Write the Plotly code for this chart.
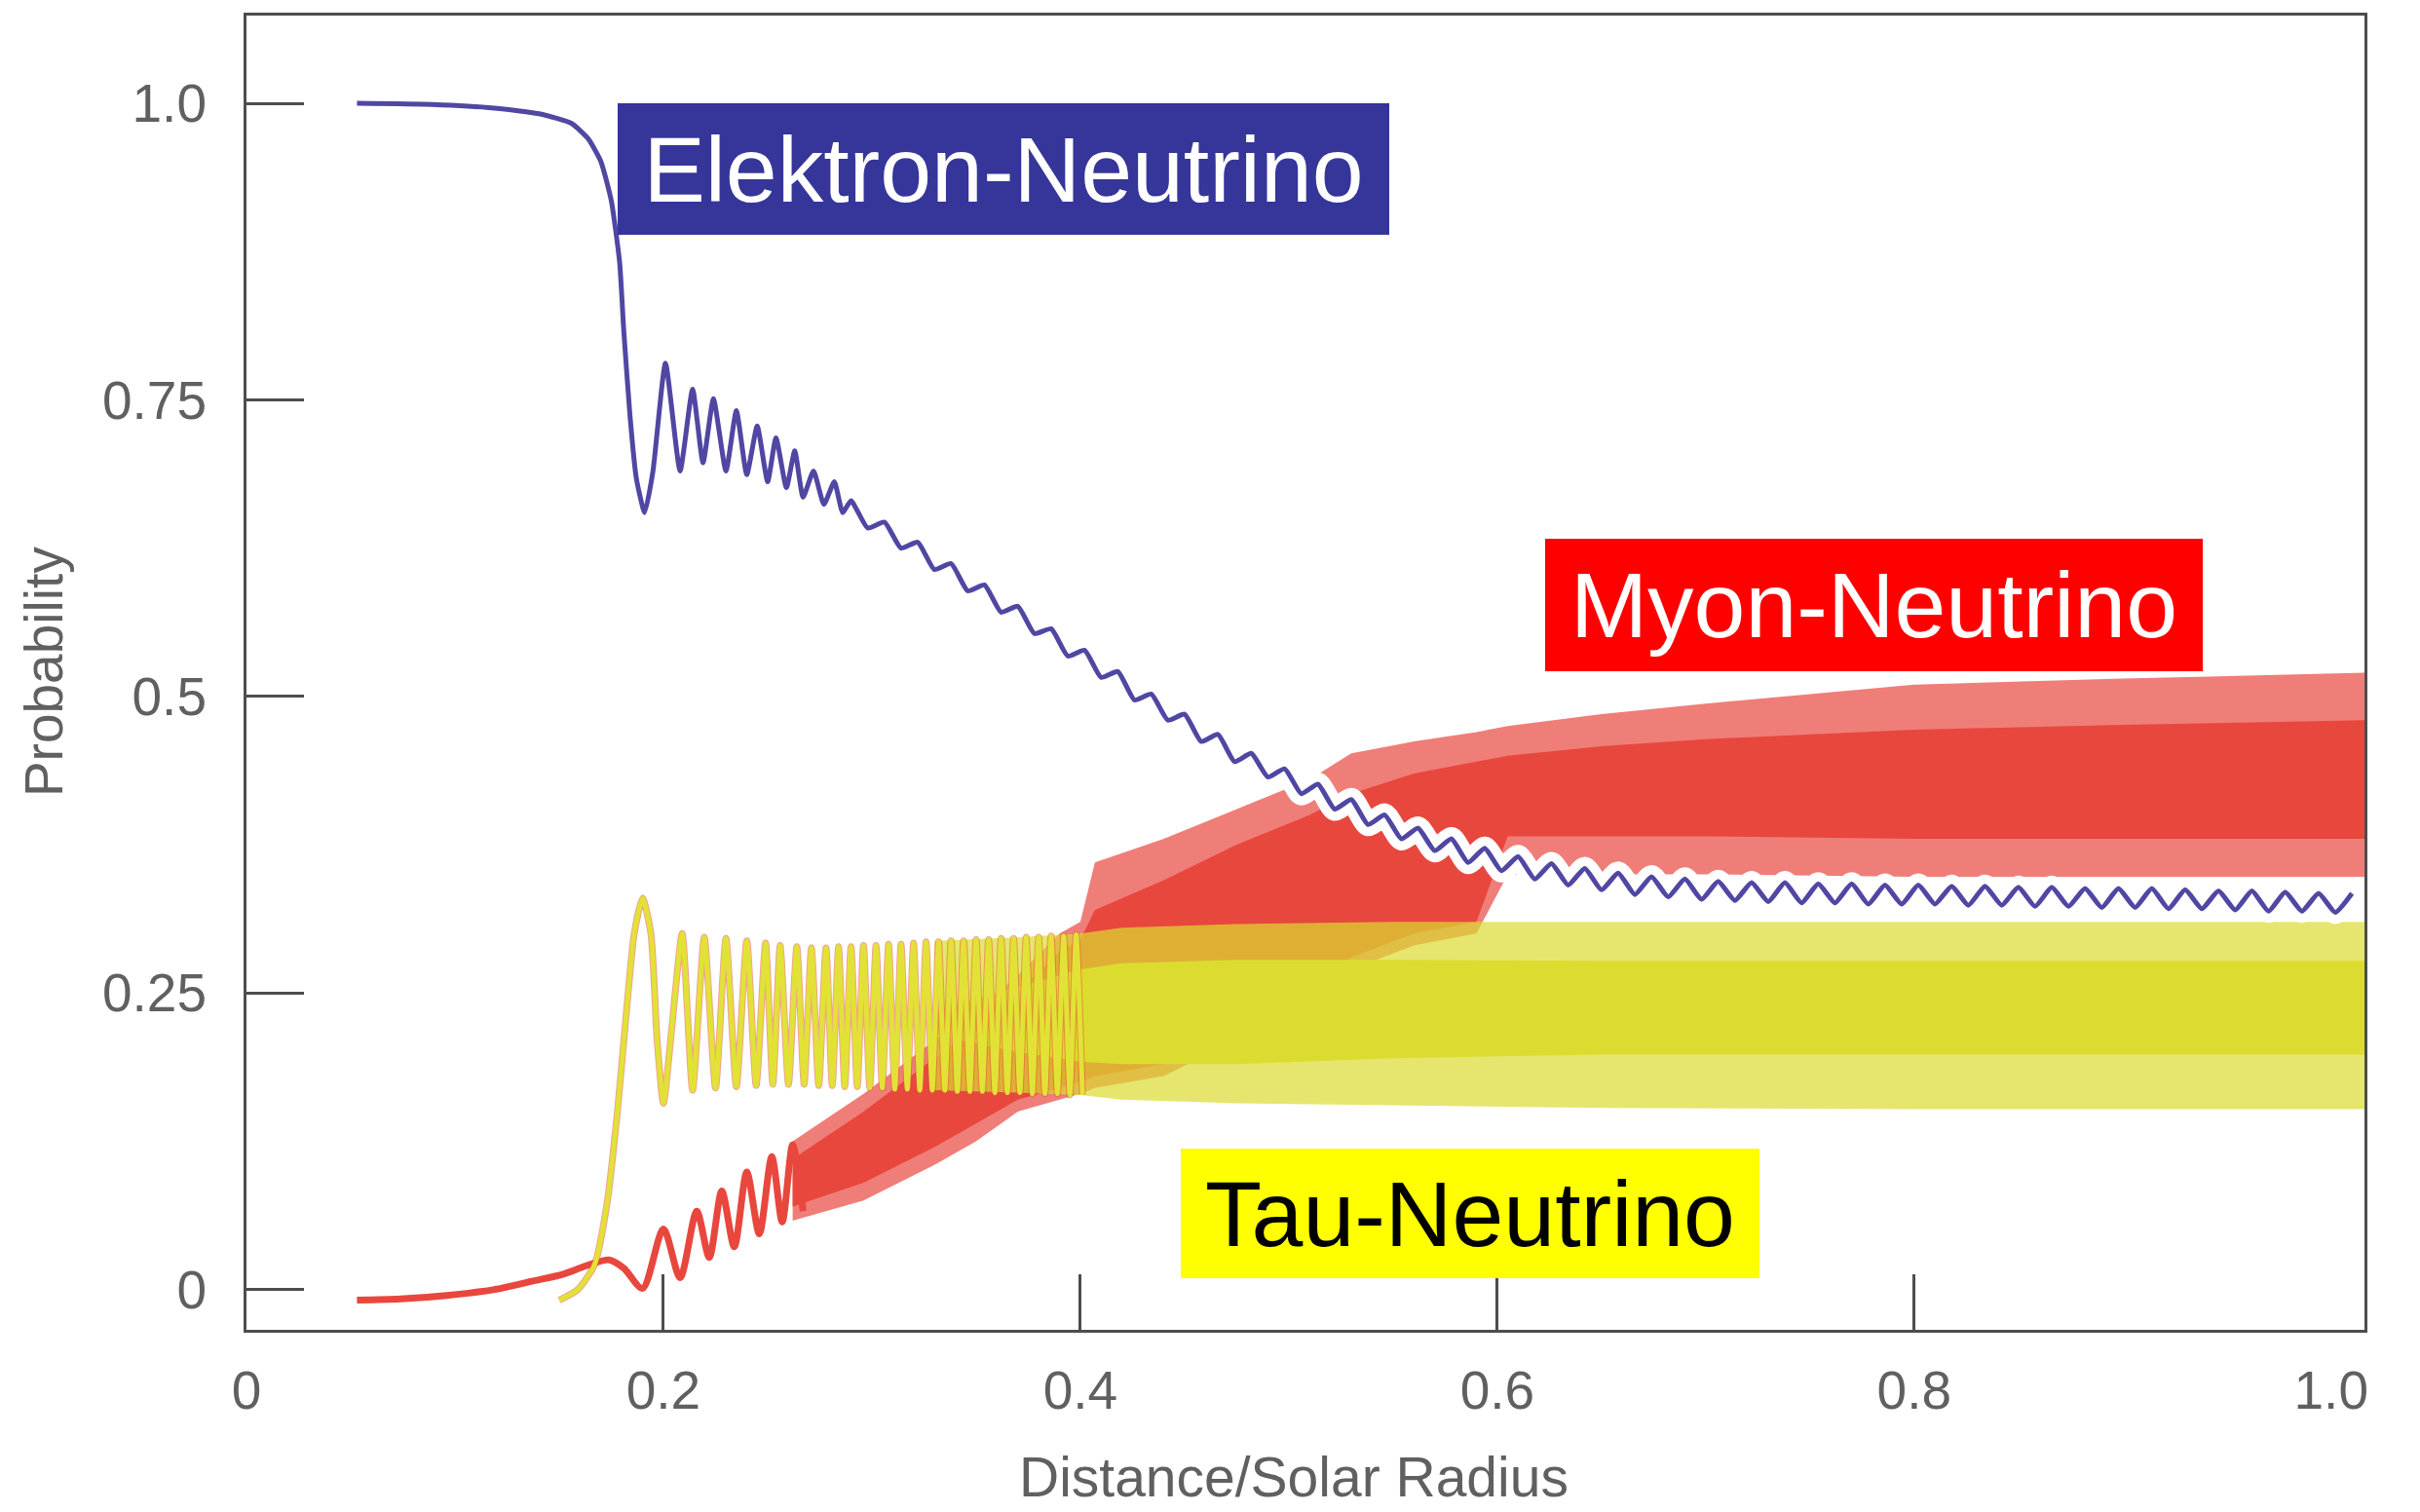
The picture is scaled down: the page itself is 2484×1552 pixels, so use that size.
import plotly.graph_objects as go

# ---------------- data (probability vs. distance / solar radius) ----------------
# Electron neutrino: survival probability (alternating crests/troughs of the ripple)
electron_x = [0.053, 0.089, 0.119, 0.141, 0.156, 0.164, 0.170, 0.175, 0.179, 0.181,
              0.184, 0.187, 0.191, 0.195, 0.201, 0.208, 0.214, 0.219, 0.224, 0.230,
              0.235, 0.240, 0.245, 0.250, 0.254, 0.259, 0.263, 0.267, 0.272, 0.277,
              0.282, 0.286,
              0.290, 0.298, 0.306, 0.314, 0.322, 0.330, 0.338, 0.346, 0.354, 0.362,
              0.370, 0.378, 0.386, 0.394, 0.402, 0.410, 0.418, 0.426, 0.434, 0.442,
              0.450, 0.458, 0.466, 0.474, 0.482, 0.490, 0.498, 0.506, 0.514, 0.522,
              0.530, 0.538, 0.546, 0.554, 0.562, 0.570, 0.578, 0.586, 0.594, 0.602,
              0.610, 0.618, 0.626, 0.634, 0.642, 0.650, 0.658, 0.666, 0.674, 0.682,
              0.690, 0.698, 0.706, 0.714, 0.722, 0.730, 0.738, 0.746, 0.754, 0.762,
              0.770, 0.778, 0.786, 0.794, 0.802, 0.810, 0.818, 0.826, 0.834, 0.842,
              0.850, 0.858, 0.866, 0.874, 0.882, 0.890, 0.898, 0.906, 0.914, 0.922,
              0.930, 0.938, 0.946, 0.954, 0.962, 0.970, 0.978, 0.986, 0.994, 1.002,
              1.010]
electron_p = [1.000, 0.999, 0.996, 0.991, 0.983, 0.970, 0.951, 0.918, 0.866, 0.808,
              0.736, 0.684, 0.655, 0.690, 0.781, 0.690, 0.759, 0.697, 0.751, 0.690,
              0.741, 0.687, 0.728, 0.681, 0.718, 0.676, 0.707, 0.668, 0.690, 0.662,
              0.681, 0.655,
              0.665, 0.642, 0.647, 0.625, 0.630, 0.607, 0.612, 0.589, 0.594, 0.571,
              0.576, 0.553, 0.557, 0.534, 0.539, 0.516, 0.521, 0.497, 0.502, 0.480,
              0.485, 0.462, 0.468, 0.445, 0.452, 0.432, 0.439, 0.418, 0.426, 0.405,
              0.413, 0.392, 0.400, 0.380, 0.389, 0.370, 0.380, 0.360, 0.372, 0.353,
              0.365, 0.346, 0.359, 0.341, 0.355, 0.337, 0.351, 0.333, 0.348, 0.331,
              0.346, 0.329, 0.344, 0.328, 0.343, 0.327, 0.343, 0.326, 0.342, 0.326,
              0.342, 0.325, 0.341, 0.325, 0.341, 0.325, 0.340, 0.324, 0.340, 0.324,
              0.339, 0.323, 0.339, 0.323, 0.338, 0.322, 0.338, 0.322, 0.338, 0.321,
              0.337, 0.321, 0.336, 0.320, 0.336, 0.319, 0.335, 0.319, 0.334, 0.318,
              0.334]

# Muon neutrino: resolved oscillations near the resonance
muon_x = [0.053, 0.074, 0.096, 0.119, 0.137, 0.152, 0.163, 0.174, 0.181, 0.190,
          0.200, 0.208, 0.216, 0.222, 0.228, 0.234, 0.240, 0.246, 0.252, 0.257,
          0.262, 0.267]
muon_p = [-0.009, -0.008, -0.005, 0.000, 0.007, 0.013, 0.020, 0.025, 0.018, 0.001,
          0.051, 0.010, 0.066, 0.027, 0.083, 0.036, 0.099, 0.047, 0.112, 0.057,
          0.122, 0.066]
# Muon neutrino: envelope of the fast oscillation further out
muon_band_x = [0.262, 0.296, 0.330, 0.350, 0.370, 0.390, 0.400, 0.407, 0.440, 0.475,
               0.510, 0.530, 0.560, 0.590, 0.605, 0.650, 0.700, 0.800, 0.900, 1.016]
muon_peak_hi = [0.125, 0.165, 0.210, 0.235, 0.265, 0.300, 0.310, 0.360, 0.380, 0.405,
                0.430, 0.452, 0.462, 0.470, 0.475, 0.485, 0.494, 0.510, 0.515, 0.520]
muon_core_hi = [0.110, 0.150, 0.195, 0.220, 0.250, 0.285, 0.295, 0.320, 0.345, 0.375,
                0.400, 0.418, 0.435, 0.445, 0.450, 0.458, 0.464, 0.472, 0.476, 0.480]
muon_core_lo = [0.070, 0.090, 0.120, 0.140, 0.160, 0.170, 0.175, 0.180, 0.190, 0.220,
                0.260, 0.280, 0.300, 0.310, 0.382, 0.382, 0.382, 0.380, 0.380, 0.380]
muon_peak_lo = [0.058, 0.075, 0.105, 0.125, 0.150, 0.160, 0.165, 0.170, 0.180, 0.210,
                0.250, 0.270, 0.290, 0.300, 0.350, 0.350, 0.350, 0.348, 0.348, 0.348]

# Tau neutrino: resolved oscillations near the resonance
tau_x = [0.150, 0.159, 0.167, 0.173, 0.178, 0.182, 0.186, 0.190, 0.194, 0.197,
         0.200, 0.204, 0.209, 0.214, 0.2196, 0.225, 0.230, 0.235, 0.240, 0.2445,
         0.249, 0.2525, 0.256, 0.260, 0.264, 0.2675, 0.271, 0.2745, 0.278, 0.281,
         0.284, 0.287, 0.290, 0.293, 0.296, 0.299, 0.302, 0.305, 0.308, 0.311,
         0.314, 0.317, 0.320, 0.323, 0.326, 0.329, 0.332, 0.335, 0.338, 0.341,
         0.344, 0.347, 0.350, 0.353, 0.356, 0.359, 0.362, 0.365, 0.368, 0.371,
         0.374, 0.377, 0.380, 0.383, 0.386, 0.389, 0.392, 0.395, 0.398, 0.401]
tau_p = [-0.009, 0.000, 0.021, 0.073, 0.151, 0.229, 0.300, 0.330, 0.300, 0.210,
         0.157, 0.220, 0.300, 0.168, 0.297, 0.170, 0.296, 0.171, 0.294, 0.172,
         0.292, 0.173, 0.290, 0.173, 0.289, 0.173, 0.288, 0.172, 0.288, 0.172,
         0.289, 0.171, 0.289, 0.171, 0.290, 0.170, 0.290, 0.170, 0.291, 0.169,
         0.291, 0.169, 0.292, 0.168, 0.293, 0.168, 0.293, 0.168, 0.294, 0.167,
         0.294, 0.167, 0.295, 0.167, 0.295, 0.166, 0.296, 0.166, 0.296, 0.166,
         0.297, 0.165, 0.297, 0.165, 0.298, 0.165, 0.298, 0.164, 0.299, 0.164]
# Tau neutrino: envelope of the fast oscillation further out
tau_band_x = [0.330, 0.370, 0.400, 0.420, 0.475, 0.550, 0.650, 0.800, 1.016]
tau_peak_hi = [0.294, 0.297, 0.300, 0.305, 0.308, 0.310, 0.310, 0.310, 0.310]
tau_core_hi = [0.235, 0.255, 0.270, 0.275, 0.278, 0.278, 0.277, 0.277, 0.277]
tau_core_lo = [0.215, 0.200, 0.192, 0.190, 0.190, 0.195, 0.198, 0.198, 0.198]
tau_peak_lo = [0.168, 0.166, 0.164, 0.160, 0.157, 0.155, 0.153, 0.152, 0.152]

x_tick_vals = [0, 0.2, 0.4, 0.6, 0.8, 1.0]
x_tick_text = ["0", "0.2", "0.4", "0.6", "0.8", "1.0"]
y_tick_vals = [0, 0.25, 0.5, 0.75, 1.0]
y_tick_text = ["0", "0.25", "0.5", "0.75", "1.0"]

# ---------------- styling ----------------
FONT = "Liberation Sans, Arial, Helvetica, sans-serif"
AXIS_GREY = "#4d4d4d"
LABEL_GREY = "#606060"
RED = "#e8473e"
YELLOW = "#dcdc30"
BLUE = "#5047a3"


def band(xs, hi, lo, color, name):
    return go.Scatter(x=list(xs) + list(xs)[::-1], y=list(hi) + list(lo)[::-1],
                      fill="toself", fillcolor=color, mode="lines",
                      line=dict(width=0, color=color), hoverinfo="skip",
                      showlegend=False, name=name)


fig = go.Figure()

# muon neutrino
fig.add_trace(band(muon_band_x, muon_peak_hi, muon_peak_lo, "rgba(232,71,62,0.7)", "muon-outer"))
fig.add_trace(band(muon_band_x, muon_core_hi, muon_core_lo, RED, "muon-core"))
fig.add_trace(go.Scatter(x=muon_x, y=muon_p, mode="lines",
                         line=dict(color=RED, width=7, shape="spline", smoothing=0.8),
                         showlegend=False, name="muon"))

# tau neutrino
fig.add_trace(band(tau_band_x, tau_peak_hi, tau_peak_lo, "rgba(220,220,48,0.7)", "tau-outer"))
fig.add_trace(band(tau_band_x, tau_core_hi, tau_core_lo, YELLOW, "tau-core"))
fig.add_trace(go.Scatter(x=tau_x, y=tau_p, mode="lines",
                         line=dict(color="rgba(225,85,55,0.55)", width=7,
                                   shape="spline", smoothing=0.6),
                         showlegend=False, hoverinfo="skip", name="tau-edge"))
fig.add_trace(go.Scatter(x=tau_x, y=tau_p, mode="lines",
                         line=dict(color="#e2e236", width=5, shape="spline", smoothing=0.6),
                         showlegend=False, name="tau"))

# electron neutrino, with a white clearance around it
fig.add_trace(go.Scatter(x=electron_x, y=electron_p, mode="lines",
                         line=dict(color="white", width=24, shape="spline", smoothing=0.5),
                         hoverinfo="skip", showlegend=False, name="electron-clear"))
fig.add_trace(go.Scatter(x=electron_x, y=electron_p, mode="lines",
                         line=dict(color=BLUE, width=5, shape="spline", smoothing=0.5),
                         showlegend=False, name="electron"))

axis_common = dict(showline=True, mirror=True, linecolor=AXIS_GREY, linewidth=3,
                   showgrid=False, zeroline=False,
                   tickfont=dict(family=FONT, size=55, color=LABEL_GREY))

fig.update_xaxes(range=[0, 1.016], tickmode="array", tickvals=x_tick_vals,
                 ticktext=x_tick_text, ticks="", ticklabelstandoff=12,
                 minor=dict(tickmode="array", tickvals=x_tick_vals[1:-1], ticks="inside",
                            ticklen=57, tickwidth=3, tickcolor=AXIS_GREY, showgrid=False),
                 **axis_common)
fig.update_yaxes(range=[-0.034, 1.074], tickmode="array", tickvals=y_tick_vals,
                 ticktext=y_tick_text, ticks="inside", ticklen=59, tickwidth=3,
                 tickcolor=AXIS_GREY, ticklabelstandoff=27, **axis_common)

annotations = [
    dict(text="Probability", x=-0.0957, y=0.501, xref="paper", yref="paper",
         textangle=-90, showarrow=False, xanchor="center", yanchor="middle",
         font=dict(family=FONT, size=55, color=LABEL_GREY)),
    dict(text="Distance/Solar Radius", x=0.4945, y=-0.1371, xref="paper", yref="paper",
         showarrow=False, xanchor="center", yanchor="bottom",
         font=dict(family=FONT, size=57, color=LABEL_GREY)),
    dict(text="Elektron-Neutrino", x=0.3574, y=0.8833, xref="paper", yref="paper",
         showarrow=False, xanchor="center", yanchor="middle", width=792, height=135,
         bgcolor="#35359a", borderpad=0, borderwidth=0, valign="middle",
         font=dict(family=FONT, size=95, color="white")),
    dict(text="Myon-Neutrino", x=0.7684, y=0.5515, xref="paper", yref="paper",
         showarrow=False, xanchor="center", yanchor="middle", width=675, height=136,
         bgcolor="#ff0000", borderpad=0, borderwidth=0, valign="middle",
         font=dict(family=FONT, size=95, color="white")),
    dict(text="Tau-Neutrino", x=0.5777, y=0.0886, xref="paper", yref="paper",
         showarrow=False, xanchor="center", yanchor="middle", width=594, height=133,
         bgcolor="#ffff00", borderpad=0, borderwidth=0, valign="middle",
         font=dict(family=FONT, size=95, color="black")),
]

fig.update_layout(width=2484, height=1552, autosize=False,
                  margin=dict(l=253, r=57, t=16, b=187),
                  paper_bgcolor="white", plot_bgcolor="white",
                  showlegend=False, annotations=annotations,
                  font=dict(family=FONT))

fig.write_html("out.html")
